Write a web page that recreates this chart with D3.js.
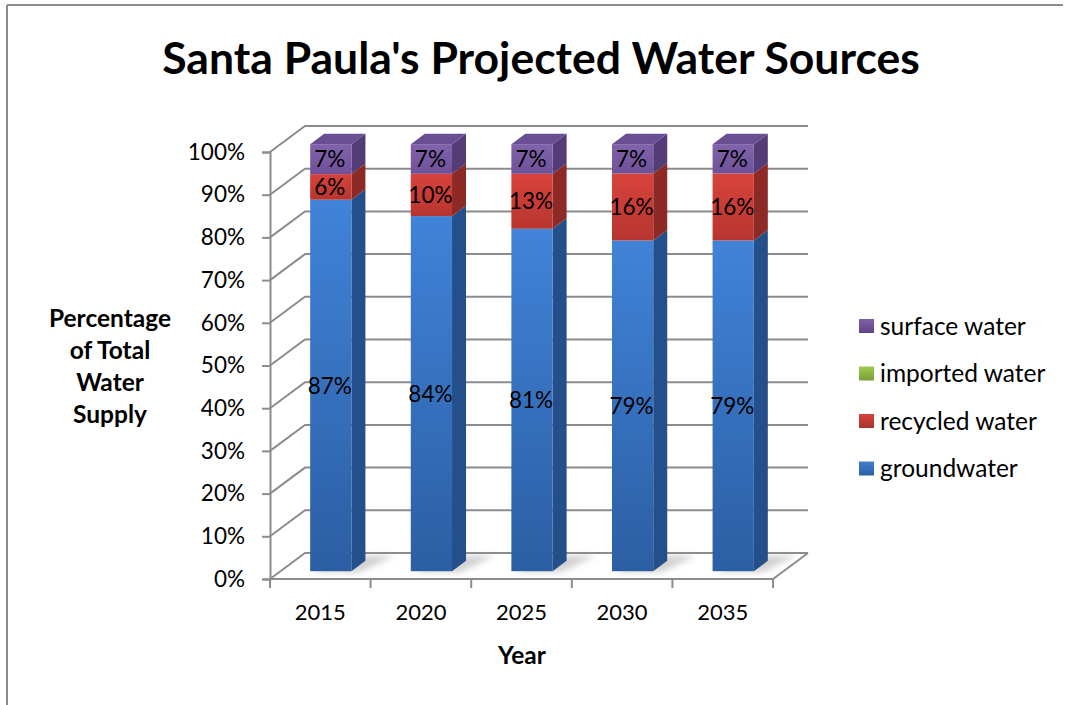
<!DOCTYPE html>
<html>
<head>
<meta charset="utf-8">
<script src="https://cdn.jsdelivr.net/npm/d3@7"></script>
<style>
  html, body { margin: 0; padding: 0; background: #fff; }
  svg { display: block; }
  text { font-family: Lato, "Open Sans", "Noto Sans", sans-serif; fill: #000; }
</style>
</head>
<body>
<svg id="chart" width="1065" height="705"></svg>
<script>
// Projected share of each water source, by planning year (percent)
const years = ["2015", "2020", "2025", "2030", "2035"];
const groundwater = [87, 84, 81, 79, 79];
const recycledWater = [6, 10, 13, 16, 16];
const importedWater = [0, 0, 0, 0, 0];
const surfaceWater = [7, 7, 7, 7, 7];

const seriesKeys = ["groundwater", "recycled water", "imported water", "surface water"];
const seriesValues = [groundwater, recycledWater, importedWater, surfaceWater];
const yTickValues = [0, 0.1, 0.2, 0.3, 0.4, 0.5, 0.6, 0.7, 0.8, 0.9, 1.0];

const titleText = "Santa Paula's Projected Water Sources";
const yTitleLines = ["Percentage", "of Total", "Water", "Supply"];
const xTitleText = "Year";

// colour scheme per series: front face (light -> dark), side face, top face
const palette = {
  "groundwater":    { a: "#4083d8", b: "#2c5ea3", side: "#254f8a", top: "#3b74c0", legend: ["#3f7fd2", "#2d5fa2"] },
  "recycled water": { a: "#d8433b", b: "#b7352f", side: "#8e2a26", top: "#c03a33", legend: ["#d6423a", "#a83430"] },
  "imported water": { a: "#9fcb4e", b: "#7ea43a", side: "#62802c", top: "#8cb545", legend: ["#9fcb4e", "#7a9e38"] },
  "surface water":  { a: "#8063ab", b: "#6e5198", side: "#543d77", top: "#6a4e93", legend: ["#7e60a8", "#5f4488"] }
};

// table for the stack layout
const table = years.map((y, i) => {
  const row = { year: y };
  seriesKeys.forEach((k, j) => { row[k] = seriesValues[j][i]; });
  return row;
});
const stacked = d3.stack().keys(seriesKeys).offset(d3.stackOffsetExpand)(table);

const svg = d3.select("#chart");

// plot geometry: front plane of the 3D box plus a depth offset
const plot = { left: 270, right: 773, top: 152, bottom: 579 };
const DX = 35, DY = -26;          // full depth of the box
const Z0 = 0.3, Z1 = 0.7;          // columns sit in the middle of the depth
const P = (x, y, z) => [x + z * DX, y + z * DY];

const x = d3.scaleBand().domain(years).range([plot.left, plot.right])
  .paddingInner(0.59).paddingOuter(0.295);
const y = d3.scaleLinear().domain([0, 1]).range([plot.bottom, plot.top]);
const step = x.step();

const gridColor = "#8c8c8c";

// outer frame (left and top edges)
svg.append("line").attr("x1", 7).attr("y1", 5).attr("x2", 7).attr("y2", 705)
  .attr("stroke", gridColor).attr("stroke-width", 2);
svg.append("line").attr("x1", 7).attr("y1", 5).attr("x2", 1063).attr("y2", 5)
  .attr("stroke", gridColor).attr("stroke-width", 2);

// defs: gradients and shadow blur
const defs = svg.append("defs");
seriesKeys.forEach((k, j) => {
  const g = defs.append("linearGradient").attr("id", "front" + j)
    .attr("x1", 0).attr("y1", 0).attr("x2", 0).attr("y2", 1);
  g.append("stop").attr("offset", "0%").attr("stop-color", palette[k].a);
  g.append("stop").attr("offset", "100%").attr("stop-color", palette[k].b);
  const l = defs.append("linearGradient").attr("id", "leg" + j)
    .attr("x1", 0).attr("y1", 0).attr("x2", 0).attr("y2", 1);
  l.append("stop").attr("offset", "0%").attr("stop-color", palette[k].legend[0]);
  l.append("stop").attr("offset", "100%").attr("stop-color", palette[k].legend[1]);
});
defs.append("filter").attr("id", "soft").attr("x", "-50%").attr("y", "-50%")
  .attr("width", "200%").attr("height", "200%")
  .append("feGaussianBlur").attr("stdDeviation", 3);

// walls: back gridlines and side-wall diagonals
const walls = svg.append("g").attr("fill", "none").attr("stroke", gridColor).attr("stroke-width", 2);
yTickValues.forEach(t => {
  const yy = y(t);
  const a = P(plot.left, yy, 0), b = P(plot.left, yy, 1), c = P(plot.right, yy, 1);
  walls.append("polyline").attr("points", [a, b, c].map(p => p.join(",")).join(" "));
});
// floor edges
const f0 = P(plot.left, plot.bottom, 0), f1 = P(plot.right, plot.bottom, 0), f2 = P(plot.right, plot.bottom, 1);
walls.append("polyline").attr("points", [f0, f1, f2].map(p => p.join(",")).join(" "));

// soft floor shadows beside each column
const shadows = svg.append("g").attr("filter", "url(#soft)");
years.forEach(yr => {
  const xl = x(yr), xr = xl + x.bandwidth();
  const pts = [P(xl + 4, plot.bottom, Z0 - 0.04), P(xr + 10, plot.bottom, Z0 - 0.04),
               P(xr + 22, plot.bottom, Z1 + 0.2), P(xl + 16, plot.bottom, Z1 + 0.2)];
  shadows.append("polygon").attr("points", pts.map(p => p.join(",")).join(" "))
    .attr("fill", "#9a9a9a").attr("opacity", 0.45);
});

// columns
const bars = svg.append("g");
const poly = pts => pts.map(p => p.join(",")).join(" ");
years.forEach((yr, i) => {
  const xl = x(yr), w = x.bandwidth(), xr = xl + w;
  // topmost non-empty segment for this column
  let topIdx = -1;
  stacked.forEach((s, j) => { if (s[i][1] - s[i][0] > 0) topIdx = j; });
  stacked.forEach((s, j) => {
    const d = s[i];
    if (d[1] - d[0] <= 0) return;
    const k = seriesKeys[j];
    const yb = y(d[0]), yt = y(d[1]);
    // side face
    bars.append("polygon")
      .attr("points", poly([P(xr, yt, Z0), P(xr, yt, Z1), P(xr, yb, Z1), P(xr, yb, Z0)]))
      .attr("fill", palette[k].side);
    // front face
    const fp = P(xl, yt, Z0);
    bars.append("rect").attr("x", fp[0]).attr("y", fp[1])
      .attr("width", w).attr("height", yb - yt)
      .attr("fill", `url(#front${j})`);
    if (j === topIdx) {
      bars.append("polygon")
        .attr("points", poly([P(xl, yt, Z0), P(xr, yt, Z0), P(xr, yt, Z1), P(xl, yt, Z1)]))
        .attr("fill", palette[k].top);
    }
  });
});

// value labels on the front faces
const labels = svg.append("g").attr("font-size", 22.5).attr("text-anchor", "middle");
stacked.forEach((s, j) => {
  s.forEach((d, i) => {
    const v = seriesValues[j][i];
    if (!v) return;
    const c = P(x(years[i]) + x.bandwidth() / 2, y((d[0] + d[1]) / 2), Z0);
    labels.append("text").attr("x", c[0] - 1).attr("y", c[1])
      .attr("dy", "0.36em").text(v + "%");
  });
});

// y axis on the front-left edge
const yAxis = svg.append("g").attr("transform", `translate(${plot.left},0)`)
  .call(d3.axisLeft(y).tickValues(yTickValues).tickFormat(d3.format(".0%"))
    .tickSize(8).tickPadding(17));
yAxis.select(".domain").attr("stroke", gridColor).attr("stroke-width", 2);
yAxis.selectAll(".tick line").attr("stroke", gridColor).attr("stroke-width", 2);
yAxis.selectAll(".tick text").attr("font-size", 22.5).attr("font-family", "Lato, sans-serif").attr("fill", "#000");

// x axis: ticks at category boundaries, labels at category centres
const xAxis = svg.append("g");
const bounds = years.map(yr => x(yr) + x.bandwidth() / 2 - step / 2).concat([plot.right]);
xAxis.selectAll("line").data(bounds).join("line")
  .attr("x1", d => d).attr("x2", d => d)
  .attr("y1", plot.bottom).attr("y2", plot.bottom + 9)
  .attr("stroke", gridColor).attr("stroke-width", 2);
xAxis.selectAll("text").data(years).join("text")
  .attr("x", d => x(d) + x.bandwidth() / 2)
  .attr("y", 612).attr("dy", "0.36em")
  .attr("text-anchor", "middle").attr("font-size", 22)
  .text(d => d);

// titles
svg.append("text").attr("x", 541).attr("y", 58).attr("dy", "0.36em")
  .attr("text-anchor", "middle").attr("font-size", 44.5).attr("font-weight", "bold")
  .text(titleText);
svg.append("text").attr("x", 522).attr("y", 655).attr("dy", "0.36em")
  .attr("text-anchor", "middle").attr("font-size", 24.5).attr("font-weight", "bold")
  .text(xTitleText);
svg.append("g").selectAll("text").data(yTitleLines).join("text")
  .attr("x", 110).attr("y", (d, i) => 318 + i * 32).attr("dy", "0.36em")
  .attr("text-anchor", "middle").attr("font-size", 24.5).attr("font-weight", "bold")
  .text(d => d);

// legend (top entry is the top of the stack)
const legendOrder = seriesKeys.slice().reverse();
const legend = svg.append("g");
legendOrder.forEach((k, i) => {
  const j = seriesKeys.indexOf(k);
  const cy = 326 + i * 47.5;
  legend.append("rect").attr("x", 859).attr("y", cy - 7).attr("width", 15).attr("height", 14)
    .attr("fill", `url(#leg${j})`);
  legend.append("text").attr("x", 880).attr("y", cy).attr("dy", "0.36em")
    .attr("font-size", 24.5).text(k);
});
</script>
</body>
</html>
